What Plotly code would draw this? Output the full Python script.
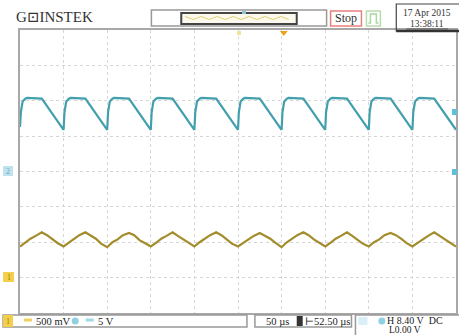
import plotly.graph_objects as go

# Channel 2 (cyan), 5 V/div, sawtooth-like: fast rise, flat top, linear fall
ch2_t = [0, 1, 3, 6, 8, 25, 50,
         51, 53, 56, 58, 75, 100,
         101, 103, 106, 108, 125, 150,
         151, 153, 156, 158, 175, 200,
         201, 203, 206, 208, 225, 250,
         251, 253, 256, 258, 275, 300,
         301, 303, 306, 308, 325, 350,
         351, 353, 356, 358, 375, 400,
         401, 403, 406, 408, 425, 450,
         451, 453, 456, 458, 475, 500]
ch2_v = [6.3, 8.4, 9.9, 10.3, 10.4, 10.3, 5.9,
         8.4, 9.9, 10.3, 10.4, 10.3, 5.9,
         8.4, 9.9, 10.3, 10.4, 10.3, 5.9,
         8.4, 9.9, 10.3, 10.4, 10.3, 5.9,
         8.4, 9.9, 10.3, 10.4, 10.3, 5.9,
         8.4, 9.9, 10.3, 10.4, 10.3, 5.9,
         8.4, 9.9, 10.3, 10.4, 10.3, 5.9,
         8.4, 9.9, 10.3, 10.4, 10.3, 5.9,
         8.4, 9.9, 10.3, 10.4, 10.3, 5.9,
         8.4, 9.9, 10.3, 10.4, 10.3, 5.9]

# Channel 1 (yellow), 500 mV/div, triangle wave
ch1_t = [0, 6, 12, 18, 25, 31, 37, 43,
         50, 56, 62, 68, 75, 81, 87, 93,
         100, 106, 112, 118, 125, 131, 137, 143,
         150, 156, 162, 168, 175, 181, 187, 193,
         200, 206, 212, 218, 225, 231, 237, 243,
         250, 256, 262, 268, 275, 281, 287, 293,
         300, 306, 312, 318, 325, 331, 337, 343,
         350, 356, 362, 368, 375, 381, 387, 393,
         400, 406, 412, 418, 425, 431, 437, 443,
         450, 456, 462, 468, 475, 481, 487, 493, 500]
ch1_v = [0.44, 0.50, 0.55, 0.59, 0.64, 0.60, 0.54, 0.49,
         0.44, 0.49, 0.55, 0.60, 0.64, 0.59, 0.55, 0.48,
         0.43, 0.50, 0.54, 0.60, 0.63, 0.60, 0.53, 0.49,
         0.44, 0.49, 0.55, 0.59, 0.64, 0.59, 0.54, 0.49,
         0.44, 0.50, 0.55, 0.60, 0.64, 0.60, 0.54, 0.48,
         0.44, 0.49, 0.54, 0.59, 0.63, 0.59, 0.55, 0.49,
         0.43, 0.50, 0.55, 0.60, 0.64, 0.60, 0.54, 0.49,
         0.44, 0.49, 0.55, 0.59, 0.64, 0.59, 0.54, 0.48,
         0.44, 0.50, 0.54, 0.60, 0.63, 0.60, 0.55, 0.49,
         0.44, 0.49, 0.55, 0.59, 0.64, 0.59, 0.54, 0.49, 0.44]

CH1_SCALE = "500 mV"
CH2_SCALE = "5 V"
TIME_SCALE = "50 µs"
TIME_POS = "52.50 µs"
TRIG_H = "H 8.40 V"
TRIG_L = "L0.00 V"
DATE = "17 Apr 2015"
CLOCK = "13:38:11"

CYAN = "#429fac"
YEL = "#a38c2c"
SERIF = "Liberation Serif, DejaVu Serif, serif"

W, H = 459, 335
L, R, T, B = 20, 1, 30, 22
PW, PH = W - L - R, H - T - B


def px(x):
    return (x - L) / PW


def py(y):
    return (H - B - y) / PH


fig = go.Figure()
fig.add_trace(go.Scatter(x=ch2_t, y=ch2_v, mode="lines",
                         line=dict(color=CYAN, width=2.2), yaxis="y"))
fig.add_trace(go.Scatter(x=ch1_t, y=ch1_v, mode="lines",
                         line=dict(color=YEL, width=2.2), yaxis="y2"))

shapes = []
ann = []


def rect(x0, y0, x1, y1, line="#888", width=1, fill="rgba(0,0,0,0)"):
    shapes.append(dict(type="rect", xref="paper", yref="paper",
                       x0=px(x0), x1=px(x1), y0=py(y1), y1=py(y0),
                       line=dict(color=line, width=width), fillcolor=fill,
                       layer="above"))


def text(x, y, s, size=11, color="#222", xanchor="left", font=SERIF, pad=1):
    ann.append(dict(xref="paper", yref="paper", x=px(x), y=py(y), text=s,
                    showarrow=False, xanchor=xanchor, yanchor="middle",
                    borderpad=pad,
                    font=dict(family=font, size=size, color=color)))


# header
text(14, 17, "G⊡INSTEK", size=15, color="#333")
rect(152, 10, 328, 26, line="#999", width=1.5)
rect(182, 13, 298, 24, line="#444", width=2, fill="#fbf8ee")
# small wave thumbnail
wx = [186 + i * 8 for i in range(14)]
path = "M " + " L ".join(f"{px(x)},{py(18 + (1.5 if i % 2 else -1.5))}" for i, x in enumerate(wx))
shapes.append(dict(type="path", xref="paper", yref="paper", path=path,
                   line=dict(color="#e6cf74", width=1), layer="above"))
shapes.append(dict(type="rect", xref="paper", yref="paper", x0=px(243), x1=px(247),
                   y0=py(14), y1=py(11), line=dict(width=0), fillcolor="#8fc8d8", layer="above"))
rect(332, 11, 363, 26, line="#e88080", width=1.5)
text(347.5, 18.5, "Stop", size=12, color="#333", xanchor="center")
rect(368, 11, 382, 26, line="#b8dcb0", width=1.5)
pulse = f"M {px(370)},{py(23)} L {px(372)},{py(23)} L {px(372)},{py(14)} L {px(378)},{py(14)} L {px(378)},{py(23)} L {px(380)},{py(23)}"
shapes.append(dict(type="path", xref="paper", yref="paper", path=pulse,
                   line=dict(color="#a8d8a0", width=1.5), layer="above"))
rect(398, 4, 462, 31, line="#444", width=1.2)
shapes.append(dict(type="line", xref="paper", yref="paper", x0=px(398), x1=px(462),
                   y0=py(31), y1=py(31), line=dict(color="#333", width=2.5), layer="above"))
text(429, 13, DATE, size=9.5, color="#333", xanchor="center")
text(429, 24, CLOCK, size=9.5, color="#333", xanchor="center")
shapes.append(dict(type="line", xref="paper", yref="paper", x0=px(408), x1=px(450),
                   y0=py(29), y1=py(29), line=dict(color="#555", width=1), layer="above"))

# trigger markers on top edge
shapes.append(dict(type="path", xref="paper", yref="paper",
                   path=f"M {px(281)},{py(31)} L {px(289)},{py(31)} L {px(285)},{py(36)} Z",
                   line=dict(width=0), fillcolor="#e9a41c", layer="above"))
shapes.append(dict(type="rect", xref="paper", yref="paper", x0=px(238), x1=px(242),
                   y0=py(35), y1=py(31), line=dict(width=0), fillcolor="#f3e39a", layer="above"))

# left channel ground markers
rect(3, 166, 13, 176, line="rgba(0,0,0,0)", width=0, fill="#bfe3ee")
text(8, 171, "2", size=8, color="#6aaabb", xanchor="center")
rect(3, 272, 14, 282, line="rgba(0,0,0,0)", width=0, fill="#f3cf4a")
text(8.5, 277, "1", size=8, color="#a07a10", xanchor="center")

# right trigger level markers
rect(454, 109, 459, 115, line="rgba(0,0,0,0)", width=0, fill="#5ec0d8")
rect(454, 169, 459, 175, line="rgba(0,0,0,0)", width=0, fill="#5ec0d8")

# bottom status boxes
rect(3, 315, 248, 327, line="#999", width=1.5)
rect(3, 315, 13, 327, line="rgba(0,0,0,0)", width=0, fill="#f3cf4a")
text(8, 321, "1", size=8, color="#a07a10", xanchor="center")
shapes.append(dict(type="line", xref="paper", yref="paper", x0=px(24), x1=px(32),
                   y0=py(320), y1=py(320), line=dict(color="#f0d060", width=3), layer="above"))
text(34, 321, CH1_SCALE, size=10.5)
shapes.append(dict(type="circle", xref="paper", yref="paper", x0=px(72), x1=px(79),
                   y0=py(324.5), y1=py(317.5), line=dict(width=0), fillcolor="#8fd0e2", layer="above"))
shapes.append(dict(type="line", xref="paper", yref="paper", x0=px(86), x1=px(94),
                   y0=py(320), y1=py(320), line=dict(color="#a0d8e6", width=3), layer="above"))
text(96, 321, CH2_SCALE, size=10.5)

rect(256, 315, 353, 327, line="#999", width=1.5)
text(265, 321, TIME_SCALE, size=10.5)
rect(298, 316, 304, 326, line="rgba(0,0,0,0)", width=0, fill="#333")
text(304, 321, "⊢" + TIME_POS, size=10.5)

rect(357, 315, 462, 340, line="#999", width=1.5)
rect(360, 317, 369, 325, line="rgba(0,0,0,0)", width=0, fill="#d8eff5")
shapes.append(dict(type="circle", xref="paper", yref="paper", x0=px(380), x1=px(387),
                   y0=py(324.5), y1=py(317.5), line=dict(width=0), fillcolor="#8fd0e2", layer="above"))
text(388, 320, TRIG_H + "&nbsp;&nbsp;DC", size=10, pad=0)
text(390, 330, TRIG_L, size=9.5, pad=0)

fig.update_layout(
    width=W, height=H,
    margin=dict(l=L, r=R, t=T, b=B),
    paper_bgcolor="white", plot_bgcolor="white",
    showlegend=False,
    shapes=shapes, annotations=ann,
    xaxis=dict(range=[0, 500], dtick=50, tick0=0, showticklabels=False, ticks="",
               showgrid=True, gridcolor="#d6d6d6", griddash="dot", gridwidth=1,
               zeroline=False, showline=True, linecolor="#a8a8a8", linewidth=1.5, mirror=True),
    yaxis=dict(range=[-20, 20], dtick=5, tick0=0, showticklabels=False, ticks="",
               showgrid=True, gridcolor="#d6d6d6", griddash="dot", gridwidth=1,
               zeroline=False, showline=True, linecolor="#a8a8a8", linewidth=1.5, mirror=True),
    yaxis2=dict(range=[-0.5, 3.5], overlaying="y", showticklabels=False, ticks="",
                showgrid=False, zeroline=False, showline=False),
)

fig.write_html("out.html")
